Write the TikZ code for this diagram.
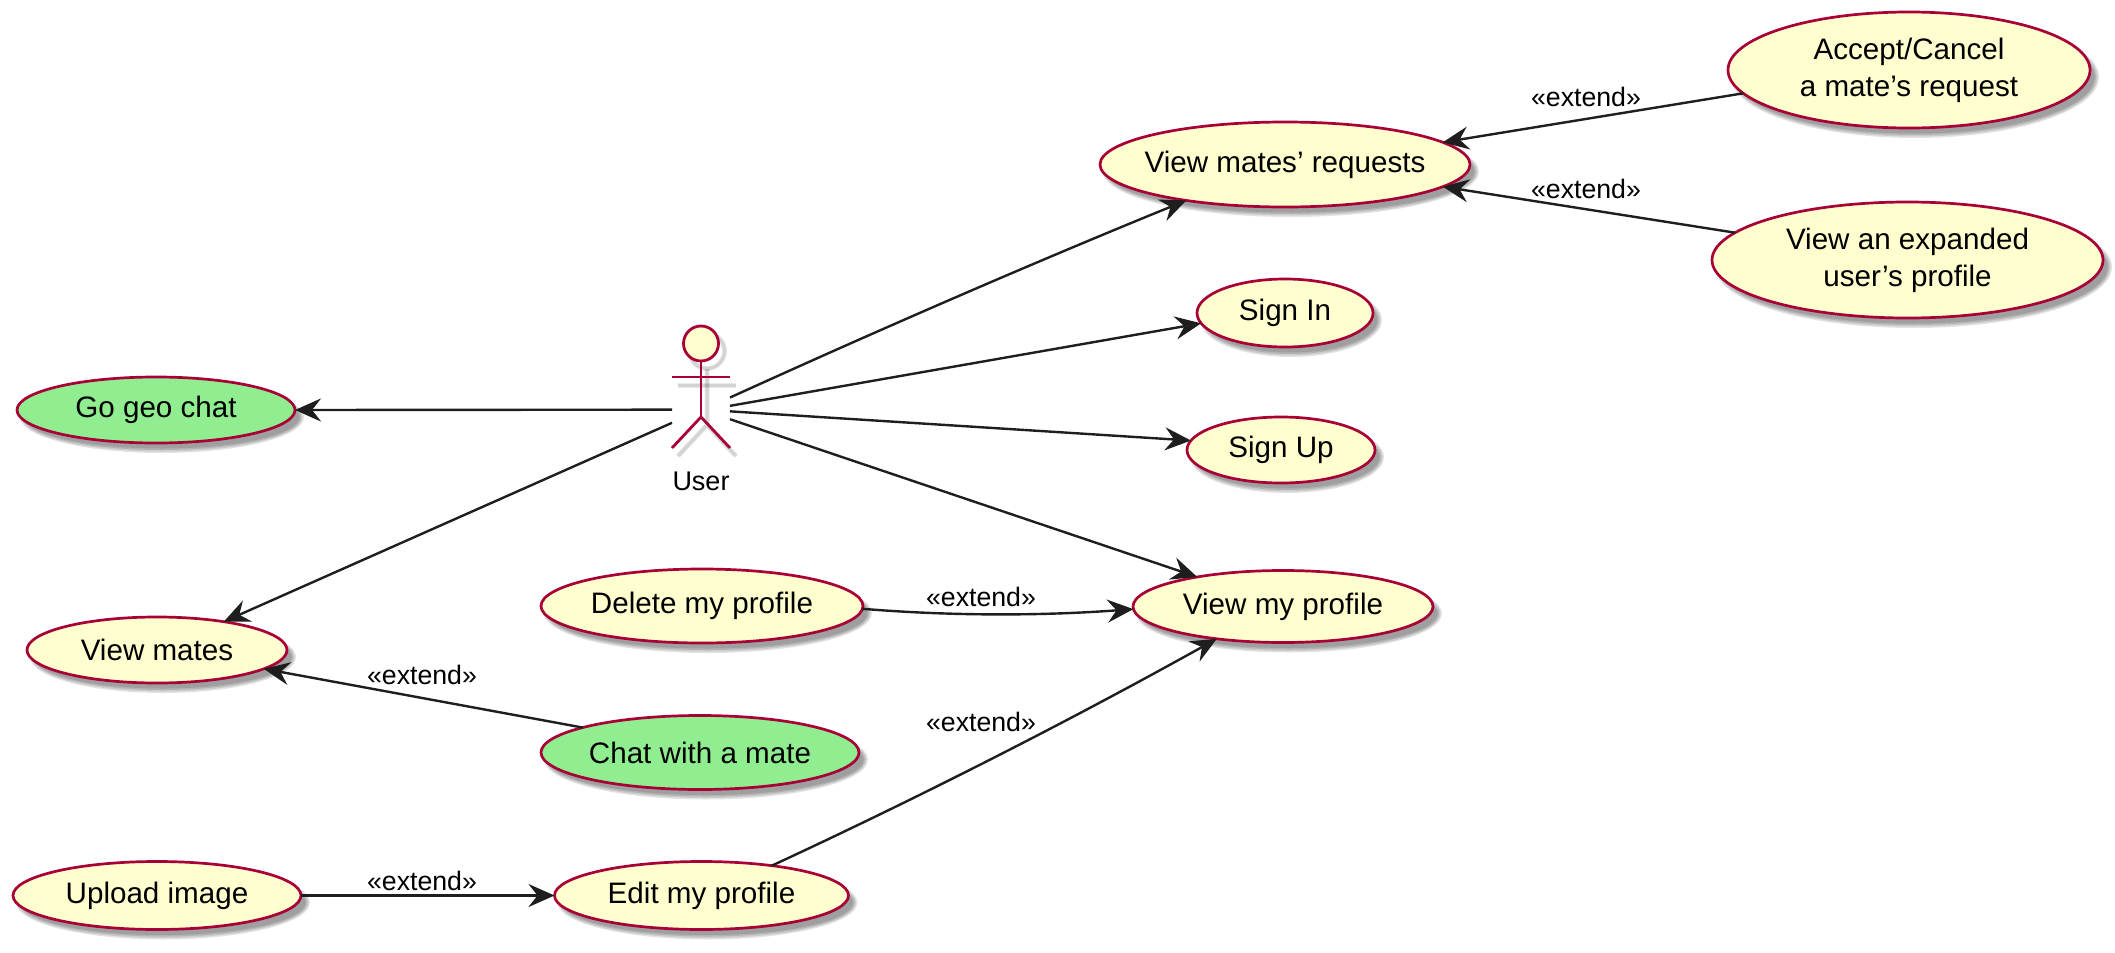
\documentclass[tikz,border=0pt]{standalone}
\usepackage{fontspec}
\setmainfont{Liberation Sans}
\usetikzlibrary{arrows.meta,shapes.geometric}
\definecolor{ucfill}{HTML}{FEFECE}
\definecolor{ucgreen}{HTML}{90EE90}
\definecolor{ucborder}{HTML}{A80036}
\definecolor{lnk}{HTML}{1E1E1E}
\tikzset{
  ucshape/.style={ellipse,draw=ucborder,line width=2.7pt,inner sep=0pt,outer sep=0pt},
  uctext/.style={font=\fontsize{29.6}{37}\selectfont,align=center,inner sep=0pt,text=black},
  extlabel/.style={font=\fontsize{26.7}{32}\selectfont,inner sep=0pt,text=black},
  link/.style={draw=lnk,line width=2.4pt,-{Stealth[length=26pt,width=23pt,inset=9pt]}},
  actorline/.style={draw=ucborder,line width=2.8pt},
  actorshadow/.style={draw=black,line width=3pt,opacity=.09}
}
% name, x, y, rx, ry, fill, text
\newcommand{\ucnode}[7]{%
  \foreach \gr in {3,1.5,0,-1.5}{%
    \fill[black,opacity=.11] (#2+6,#3+7) ellipse [x radius=#4pt+\gr pt,y radius=#5pt+\gr pt];
  }
  \node[ucshape,fill=#6,minimum width=2*#4 pt,minimum height=2*#5 pt] (#1) at (#2,#3) {};
  \node[uctext] (#1t) at (#1) {#7};
}
\begin{document}
\begin{tikzpicture}[x=1pt,y=-1pt]
\useasboundingbox (0,0) rectangle (2115,953);
\fill[white] (0,0) rectangle (2115,953);

\ucnode{accept}{1909}{70}{181}{58}{ucfill}{Accept/Cancel\\a mate's request}
\ucnode{requests}{1285}{164.5}{185}{42.5}{ucfill}{View mates' requests}
\ucnode{expanded}{1907.5}{260}{195.5}{58}{ucfill}{View an expanded\\user's profile}
\ucnode{signin}{1285}{313}{88}{34}{ucfill}{Sign In}
\ucnode{signup}{1281}{450}{94}{33}{ucfill}{Sign Up}
\ucnode{myprofile}{1283}{606.5}{150}{36}{ucfill}{View my profile}
\ucnode{mates}{157}{650}{130}{33}{ucfill}{View mates}
\ucnode{delete}{702}{606}{161}{37}{ucfill}{Delete my profile}
\ucnode{chat}{700}{752.5}{159}{37}{ucgreen}{Chat with a mate}
\ucnode{upload}{157}{895.5}{144}{34}{ucfill}{Upload image}
\ucnode{edit}{701.5}{895.5}{147}{34}{ucfill}{Edit my profile}
\ucnode{geochat}{156}{410}{139}{33}{ucgreen}{Go geo chat}

% actor
\foreach \w in {0,1}{
  \draw[actorshadow,line width=3pt+2*\w pt] (707,351) circle (17.5pt);
  \draw[actorshadow,line width=3pt+2*\w pt] (678,385) -- (736,385);
  \draw[actorshadow,line width=3pt+2*\w pt] (707,369) -- (707,425) (678,456) -- (707,425) -- (736,456);
}
\draw[actorline,fill=ucfill] (701,343.5) circle (17.5pt);
\draw[actorline] (672,377) -- (730,377);
\draw[actorline] (701,361) -- (701,417);
\draw[actorline] (672,448) -- (701,417) -- (730,448);
\node[minimum width=58pt,minimum height=122pt,inner sep=0pt,outer sep=0pt] (user) at (701,387) {};
\node[font=\fontsize{27}{32}\selectfont,inner sep=0pt] (usertext) at (701,481) {User};

% connectors
\draw[link] (user.-20.8) .. controls (885,327) and (1040,260) .. (requests.200.4);
\draw[link] (user.-33.2) -- (signin.187.1);
\draw[link] (user.-40.8) -- (signup.174.2);
\draw[link] (user.-48.7) -- (myprofile.161.3);
\draw[link] (user.218.4) -- (geochat.0);
\draw[link] (user.231.1) -- (mates.23.3);
\draw[link] (accept.188.9) -- (requests.8.7);
\draw[link] (expanded.171) -- (requests.-8.4);
\draw[link] (chat.168.7) -- (mates.-10.4);
\draw[link] (delete.-1.8) .. controls (950,616) and (1040,616) .. (myprofile.181.7);
\draw[link] (edit.23.7) .. controls (920,797) and (1071,720) .. (myprofile.206.9);
\draw[link] (upload.east) -- (edit.west);

% labels
\node[extlabel] (l1) at (1586,97) {«extend»};
\node[extlabel] (l2) at (1586,189) {«extend»};
\node[extlabel] (l3) at (981,597) {«extend»};
\node[extlabel] (l4) at (981,722) {«extend»};
\node[extlabel] (l5) at (422,674.5) {«extend»};
\node[extlabel] (l6) at (422,881) {«extend»};
\end{tikzpicture}
\end{document}
